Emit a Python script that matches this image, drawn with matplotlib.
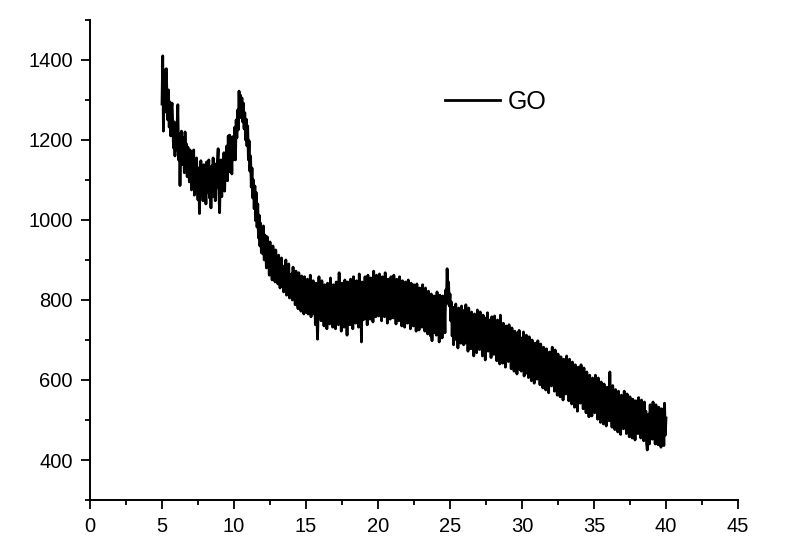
import numpy as np
import matplotlib
matplotlib.use('Agg')
import matplotlib.pyplot as plt
from matplotlib.ticker import MultipleLocator

plt.rcParams['font.family'] = ['Liberation Sans', 'DejaVu Sans']

# 2-theta from 5 to 40 deg, step 0.05 (one row per degree)
two_theta = np.round(np.arange(5.0, 40.0001, 0.05), 2)

intensity = [
    1290, 1410, 1222, 1350, 1375, 1270, 1378, 1295, 1250, 1325, 1232, 1295, 1210, 1278, 1292, 1235, 1180, 1245, 1160, 1238,
    1175, 1240, 1288, 1150, 1215, 1086, 1195, 1222, 1138, 1188, 1205, 1118, 1220, 1145, 1190, 1108, 1182, 1135, 1095, 1175,
    1150, 1075, 1162, 1100, 1175, 1062, 1138, 1082, 1155, 1090, 1050, 1130, 1016, 1088, 1148, 1070, 1120, 1048, 1138, 1078,
    1130, 1040, 1145, 1068, 1112, 1150, 1055, 1120, 1030, 1135, 1075, 1155, 1058, 1115, 1048, 1140, 1080, 1148, 1178, 1072,
    1018, 1110, 1150, 1058, 1130, 1082, 1168, 1072, 1150, 1100, 1185, 1098, 1210, 1120, 1212, 1138, 1195, 1115, 1208, 1150,
    1170, 1232, 1150, 1250, 1205, 1275, 1225, 1322, 1255, 1312, 1270, 1305, 1245, 1292, 1228, 1268, 1200, 1252, 1185, 1235,
    1150, 1198, 1122, 1160, 1082, 1130, 1055, 1100, 1028, 1085, 998, 1068, 982, 1040, 955, 1012, 935, 992, 918, 978,
    915, 985, 900, 962, 935, 880, 958, 895, 925, 862, 945, 900, 880, 850, 935, 905, 872, 845, 925, 860,
    895, 840, 912, 868, 830, 892, 905, 835, 870, 820, 885, 848, 900, 812, 868, 835, 890, 805, 862, 828,
    865, 800, 882, 818, 850, 788, 872, 830, 792, 778, 868, 808, 842, 772, 860, 800, 845, 765, 858, 792,
    840, 768, 852, 765, 828, 790, 862, 758, 822, 780, 848, 765, 818, 738, 842, 775, 702, 785, 858, 770,
    828, 748, 848, 765, 812, 735, 838, 778, 820, 728, 842, 760, 812, 740, 855, 770, 825, 732, 838, 758,
    820, 728, 845, 768, 815, 738, 868, 760, 828, 722, 842, 772, 815, 732, 850, 748, 825, 712, 845, 765,
    830, 738, 852, 762, 820, 728, 858, 780, 835, 742, 848, 760, 828, 732, 865, 768, 832, 695, 845, 750,
    835, 752, 858, 770, 828, 738, 862, 782, 842, 752, 855, 765, 832, 745, 872, 785, 845, 758, 862, 775,
    850, 760, 865, 780, 838, 748, 858, 790, 845, 758, 868, 775, 830, 742, 852, 785, 835, 752, 858, 770,
    840, 755, 862, 778, 830, 740, 852, 785, 835, 748, 858, 768, 822, 735, 848, 775, 828, 732, 845, 760,
    830, 742, 850, 770, 820, 728, 842, 762, 825, 735, 838, 752, 815, 722, 840, 758, 812, 725, 830, 748,
    818, 732, 838, 752, 810, 722, 830, 745, 805, 715, 822, 740, 800, 710, 815, 698, 795, 728, 810, 718,
    805, 712, 820, 732, 798, 695, 812, 730, 790, 705, 810, 748, 800, 718, 825, 790, 878, 812, 845, 785,
    815, 748, 795, 710, 782, 688, 775, 722, 790, 700, 765, 680, 780, 712, 762, 692, 785, 705, 755, 688,
    775, 692, 788, 708, 762, 672, 780, 698, 755, 678, 770, 695, 750, 660, 765, 702, 752, 668, 775, 688,
    758, 676, 770, 692, 745, 660, 762, 686, 742, 650, 755, 680, 768, 672, 750, 678, 740, 656, 758, 674,
    745, 664, 760, 676, 732, 648, 750, 668, 728, 640, 762, 666, 722, 642, 742, 658, 715, 632, 735, 652,
    725, 646, 738, 658, 712, 628, 730, 650, 708, 622, 722, 644, 700, 615, 718, 638, 724, 626, 705, 622,
    705, 626, 720, 610, 698, 616, 712, 630, 690, 606, 708, 624, 682, 598, 700, 620, 676, 592, 692, 614,
    685, 602, 698, 614, 675, 588, 690, 608, 668, 580, 682, 600, 660, 575, 678, 596, 655, 568, 670, 592,
    668, 585, 682, 596, 655, 572, 675, 588, 650, 562, 665, 582, 642, 558, 658, 578, 635, 550, 652, 572,
    648, 565, 660, 578, 635, 548, 652, 566, 630, 540, 645, 560, 622, 532, 638, 556, 615, 522, 632, 548,
    625, 542, 638, 555, 612, 528, 630, 545, 606, 518, 620, 536, 598, 508, 612, 532, 590, 510, 605, 522,
    600, 518, 612, 530, 588, 502, 605, 522, 580, 494, 595, 515, 575, 490, 590, 510, 566, 485, 582, 505,
    580, 498, 620, 512, 568, 482, 586, 505, 562, 476, 576, 498, 555, 470, 572, 492, 546, 464, 562, 486,
    558, 478, 572, 492, 548, 466, 565, 485, 542, 458, 558, 480, 535, 455, 552, 476, 528, 450, 548, 470,
    542, 466, 556, 480, 532, 455, 550, 472, 528, 448, 545, 468, 522, 442, 425, 462, 515, 440, 538, 458,
    530, 452, 545, 466, 522, 440, 538, 460, 518, 438, 532, 456, 512, 432, 528, 455, 510, 436, 542, 462,
    505,
]

series_label = 'GO'

fig = plt.figure(figsize=(8.0, 5.57), dpi=100)
ax = fig.add_axes([0.1125, 0.1023, 0.81, 0.862])

ax.plot(two_theta, intensity, color='black', lw=2.0, label=series_label)

ax.set_xlim(0, 45)
ax.set_ylim(300, 1500)
ax.xaxis.set_major_locator(MultipleLocator(5))
ax.xaxis.set_minor_locator(MultipleLocator(2.5))
ax.set_yticks([400, 600, 800, 1000, 1200, 1400])
ax.yaxis.set_minor_locator(MultipleLocator(100))

for s in ['top', 'right']:
    ax.spines[s].set_visible(False)
for s in ['left', 'bottom']:
    ax.spines[s].set_linewidth(1.4)

ax.tick_params(which='major', direction='out', length=6.5, width=1.3, pad=6)
ax.tick_params(which='minor', direction='out', length=3.5, width=1.3)
for lbl in ax.get_xticklabels() + ax.get_yticklabels():
    lbl.set_fontsize(14.5)

ax.legend(loc='center left', bbox_to_anchor=(445 / 800, 1 - 102 / 557),
          bbox_transform=fig.transFigure, frameon=False, fontsize=18,
          handlelength=2.2, handletextpad=0.3, borderpad=0, borderaxespad=0)

plt.savefig('out.png', dpi=100)
